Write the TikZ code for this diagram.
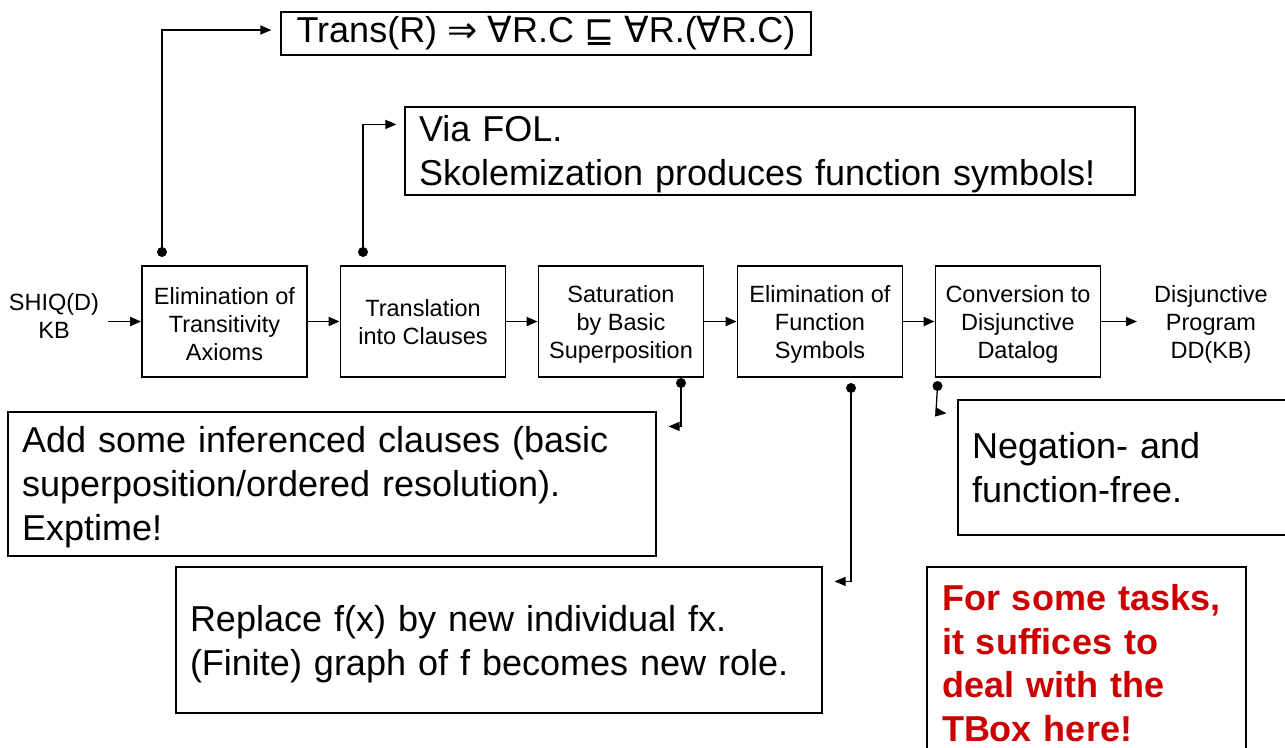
\documentclass[tikz,border=0pt]{standalone}
\usepackage{fontspec}
\setmainfont{Liberation Sans}
\newfontfamily\symfont{DejaVu Sans}
\usetikzlibrary{arrows.meta,calc}
\definecolor{alert}{RGB}{204,0,0}
% invisible rule that raises the top of the first line
\newcommand\lift[1]{\rule{0pt}{#1}}
\begin{document}
\begin{tikzpicture}[x=1pt,y=-1pt,
  stage/.style={draw,line width=1.8pt,minimum width=165pt,minimum height=111pt,
    inner sep=0pt,align=center,font=\fontsize{23.5}{28}\selectfont},
  plain/.style={inner ysep=0pt,align=center,font=\fontsize{23.5}{28}\selectfont},
  note/.style={draw,line width=1.2pt,inner xsep=14pt,inner ysep=0pt,align=left,
    font=\fontsize{36}{44}\selectfont},
  flow/.style={line width=1.8pt,-{Triangle[length=11pt,width=9pt]}},
  link/.style={line width=1.3pt,-{Triangle[length=11pt,width=9pt]}}
]
\useasboundingbox (0,0) rectangle (1285,747);
\clip (0,0) rectangle (1285,747);

% pipeline stages
\node[plain,inner xsep=9pt] (kb) at (54,316) {SHIQ(D)\\KB};
\node[stage] (s1) at (224.5,321.5) {\lift{23pt}Elimination of\\Transitivity\\Axioms};
\node[stage] (s2) at (423,321.5) {\lift{19pt}Translation\\into Clauses};
\node[stage] (s3) at (621,321.5) {\lift{23pt}Saturation\\by Basic\\Superposition};
\node[stage] (s4) at (820,321.5) {\lift{23pt}Elimination of\\Function\\Symbols};
\node[stage] (s5) at (1018,321.5) {\lift{23pt}Conversion to\\Disjunctive\\Datalog};
\node[plain,inner xsep=17pt] (dd) at (1211,321.5) {\lift{23pt}Disjunctive\\Program\\DD(KB)};

\draw[flow] (kb.east |- s1) -- (s1.west);
\draw[flow] (s1) -- (s2);
\draw[flow] (s2) -- (s3);
\draw[flow] (s3) -- (s4);
\draw[flow] (s4) -- (s5);
\draw[flow] (s5) -- (dd);

% remarks
\node[note,inner xsep=10pt,minimum width=530pt,minimum height=43pt] (rule) at (546,33.5)
  {Trans(R) {\symfont ⇒} {\symfont ∀}R.C {\symfont ⊑} {\symfont ∀}R.({\symfont ∀}R.C)};
\node[note,text width=702pt,minimum height=88pt] (fol) at (770,151)
  {\lift{33pt}Via FOL.\\Skolemization produces function symbols!};
\node[note,text width=620pt,minimum height=144pt] (add) at (332,484)
  {\lift{32pt}Add some inferenced clauses (basic\\superposition/ordered resolution).\\Exptime!};
\node[note,text width=618pt,minimum height=146pt] (rep) at (499,640)
  {\lift{34pt}Replace f(x) by new individual fx.\\(Finite) graph of f becomes new role.};
\node[note,text width=314pt,minimum height=135pt] (neg) at (1129,467.5)
  {Negation- and\\function-free.};
\node[note,inner xsep=15pt,text width=289pt,minimum height=192pt,text=alert,
  font=\fontsize{36}{43.5}\selectfont\bfseries] (tbox) at (1086.5,663)
  {For some tasks,\\it suffices to\\deal with the\\TBox here!};

% attachment points of the remarks
\coordinate (d1) at (162,252);
\coordinate (d2) at (363,252);
\coordinate (d3) at (681,383);
\coordinate (d4) at (851,388);
\coordinate (d5) at (937.5,386);

\draw[link,shorten >=9pt] (d1) |- ($(rule.west)+(0,-3.5)$);
\draw[link,shorten >=8pt] (d2) |- ($(fol.north west)+(0,18)$);
\draw[link,shorten >=12pt] (d3) |- ($(add.north east)+(0,15)$);
\draw[link,shorten >=12pt] (d4) |- ($(rep.north east)+(0,15)$);
\draw[link] (d5) -- ++(-1.5,26) -- ($(neg.north west)+(-11,14)$);

\foreach \p in {d1,d2,d3,d4,d5} \fill (\p) circle (5pt);
\end{tikzpicture}
\end{document}
